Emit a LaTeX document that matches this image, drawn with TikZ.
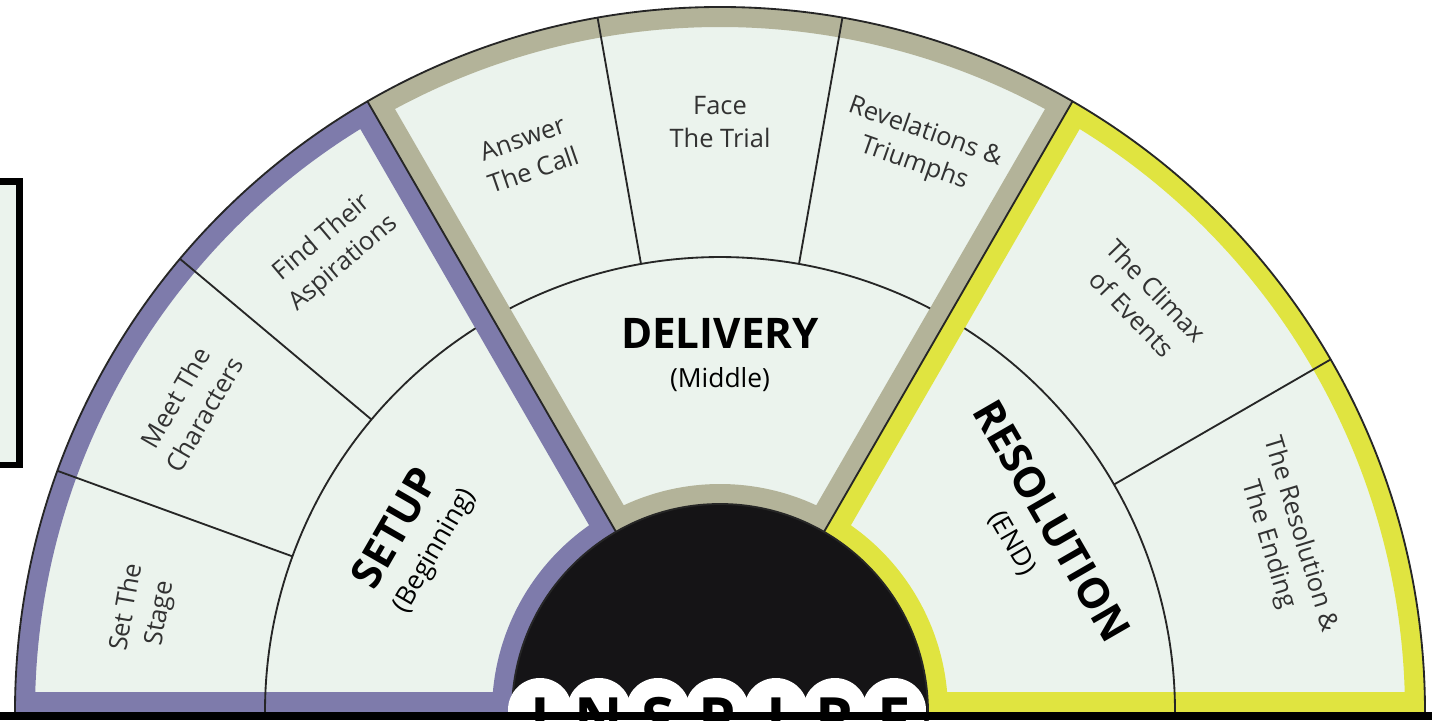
\documentclass[tikz,border=0pt]{standalone}
\usepackage{fontspec}
\setmainfont{Open Sans}
\usetikzlibrary{positioning}

\definecolor{setupband}{RGB}{126,123,171}
\definecolor{deliveryband}{RGB}{179,179,153}
\definecolor{resolutionband}{RGB}{224,228,64}
\definecolor{panelfill}{RGB}{235,243,237}
\definecolor{hubblack}{RGB}{21,20,22}
\definecolor{steptext}{RGB}{50,50,50}

% annular sector: start angle, end angle, outer radius, inner radius
\newcommand{\sectorpath}[4]{(#1:#3) arc[start angle=#1, end angle=#2, radius=#3] -- (#2:#4) arc[start angle=#2, end angle=#1, radius=#4] -- cycle}
\newcommand{\actsubfont}{\fontsize{15}{18}\selectfont\mdseries}

\tikzset{
	thinline/.style={draw=black!85, line width=1.05pt},
	steplabel/.style={align=center, text=steptext, inner sep=1pt,
		font=\fontsize{14.5}{19}\selectfont},
	actlabel/.style={align=center, inner sep=1pt,
		font=\fontsize{24}{26}\selectfont\bfseries},
	bubble/.style={fill=white, draw=none},
	letter/.style={font=\fontsize{34}{34}\selectfont\bfseries, inner sep=0pt, anchor=base}
}

\begin{document}
\begin{tikzpicture}[x=0.02cm, y=0.02cm]

	\useasboundingbox (-720,-8) rectangle (712,712);
	\begin{scope}
	\clip (-720,-8) rectangle (712,712);

	%% ── side panel (cut by the left edge) ─────────────────────────────
	\draw[fill=panelfill, line width=0.14cm] (-760,247) rectangle (-700.5,530.5);

	%% ── the three acts: light panel with a coloured frame ─────────────
	\foreach \from/\to/\band in {180/120/setupband, 120/60/deliveryband, 60/0/resolutionband}{
		\begin{scope}
			\clip \sectorpath{\from}{\to}{705}{208};
			\fill[panelfill] \sectorpath{\from}{\to}{705}{208};
			\draw[\band, line width=0.8cm] \sectorpath{\from}{\to}{705}{208};
		\end{scope}
	}

	%% ── hub ───────────────────────────────────────────────────────────
	\fill[hubblack] (0,0) circle (208);
	\draw[thinline] (0,0) circle (208);

	%% ── inner arcs, dividers, act boundaries ──────────────────────────
	\draw[thinline] (180:455) arc[start angle=180, end angle=122.5, radius=455];
	\draw[thinline] (117.5:455) arc[start angle=117.5, end angle=62.5, radius=455];
	\draw[thinline] (57.5:455) arc[start angle=57.5, end angle=0, radius=455];
	\foreach \a in {160,140,100,80,30}
		\draw[thinline] (\a:455) -- (\a:705);
	\foreach \a in {120,60}
		\draw[thinline] (\a:208) -- (\a:705);
	\draw[thinline] (180:705) arc[start angle=180, end angle=0, radius=705];

	%% ── step labels (outer ring) ──────────────────────────────────────
	\foreach \ang/\rad/\txt [count=\i] in {
		170/585/{Set The\\Stage},
		150/612/{Meet The\\Characters},
		130/602/{Find Their\\Aspirations},
		109/590/{Answer\\The Call},
		90/590/{Face\\The Trial},
		70.5/598/{Revelations \&\\Triumphs},
		44/590/{The Climax\\of Events},
		17/590/{The Resolution \&\\The Ending}}
		\node[steplabel, rotate=\ang-90] (step\i) at (\ang:\rad) {\txt};

	%% ── act labels ────────────────────────────────────────────────────
	\node[actlabel, rotate=60] (setup) at (150.5:352)
		{SETUP\\[-4pt]{\actsubfont(Beginning)}};
	\node[actlabel] (delivery) at (90:357)
		{DELIVERY\\[-4pt]{\actsubfont(Middle)}};
	\node[actlabel, rotate=-60] (resolution) at (30:362)
		{RESOLUTION\\[-4pt]{\actsubfont(END)}};

	%% ── INSPIRE (cut by the lower edge) ───────────────────────────────
	\foreach \ch [count=\i] in {I,N,S,P,I,R,E}
		\fill[bubble] ({-180+59*(\i-1)},2) circle (32);
	\foreach \ch [count=\i] in {I,N,S,P,I,R,E}
		\node[letter] (ltr\i) at ({-180+59*(\i-1)},-28) {\ch};

	\fill[black] (-720,-8) rectangle (712,0);
	\end{scope}

\end{tikzpicture}
\end{document}
